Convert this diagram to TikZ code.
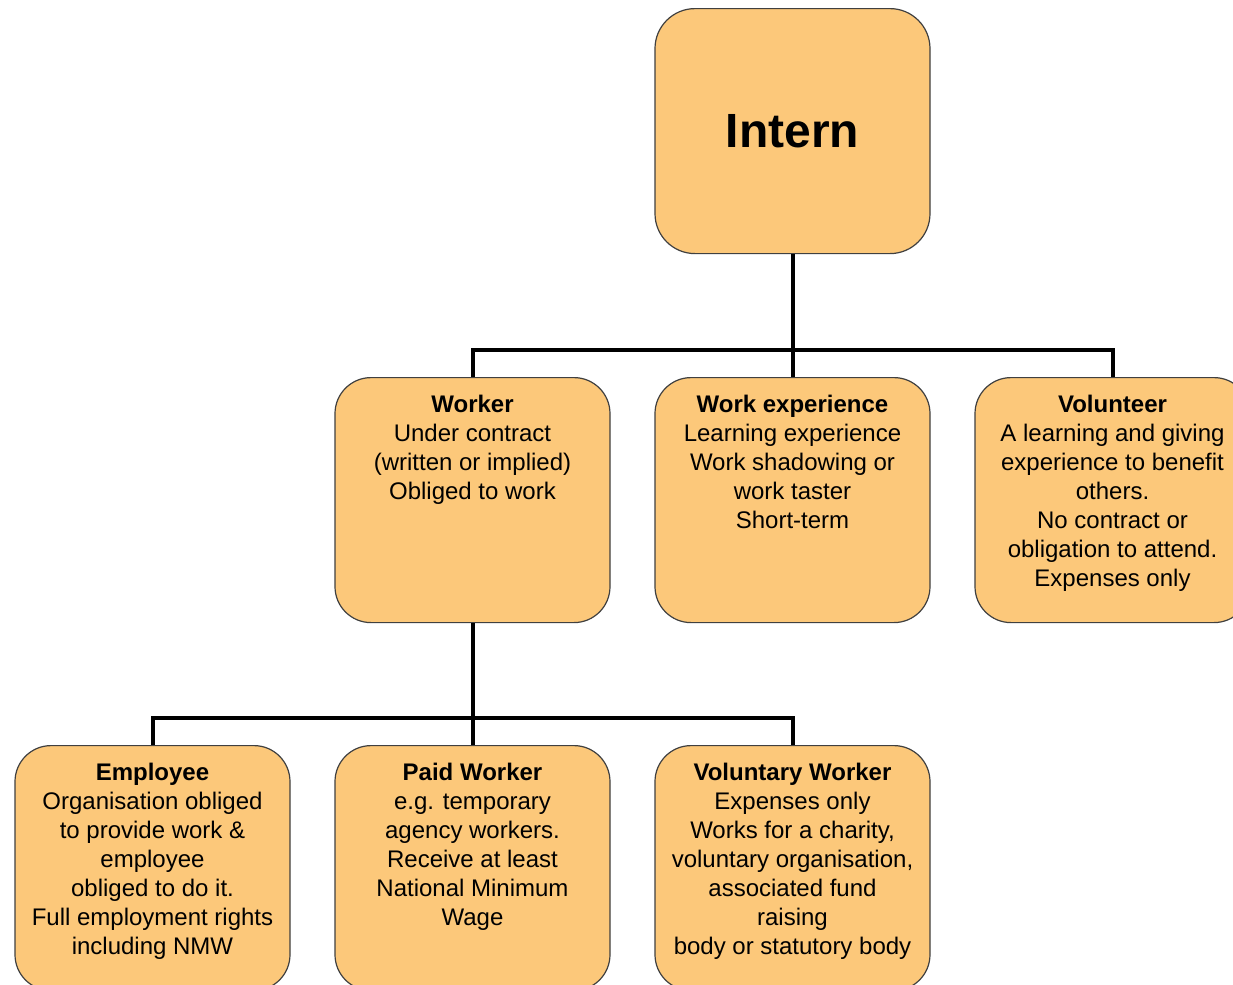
\documentclass[tikz,border=0pt]{standalone}
\usepackage{fontspec}
\setmainfont{Liberation Sans}
\definecolor{cardfill}{HTML}{FCC87A}
\definecolor{cardline}{HTML}{404040}
\tikzset{
  card/.style={draw=cardline, line width=0.6pt, fill=cardfill, rounded corners=18pt,
    minimum width=137.5pt, minimum height=122.5pt, inner sep=0pt, anchor=north},
  link/.style={line width=2pt, black}
}
\newcommand{\cardtext}[2]{\parbox[t][107.5pt][t]{137.5pt}{\centering
  \fontsize{12pt}{14.5pt}\selectfont\strut\textbf{#1}\\#2}}
\begin{document}
\begin{tikzpicture}[x=0.5pt, y=-0.5pt]
\clip (0,0) rectangle (1233,985);
\fill[white] (0,0) rectangle (1233,985);

% top
\node[card, rounded corners=20pt] (Intern) at (792.5,8) {\parbox[c][122.5pt][c]{137.5pt}{\centering\fontsize{24pt}{28pt}\selectfont\textbf{Intern}}};

% second row
\node[card] (Worker) at (472.5,377) {\cardtext{Worker}{Under contract\\(written or implied)\\Obliged to work}};
\node[card] (Work experience) at (792.5,377) {\cardtext{Work experience}{Learning experience\\Work shadowing or\\work taster\\Short-term}};
\node[card] (Volunteer) at (1112.5,377) {\cardtext{Volunteer}{A learning and giving\\experience to benefit\\others.\\No contract or\\obligation to attend.\\Expenses only}};

% third row
\node[card] (Employee) at (152.5,745) {\cardtext{Employee}{Organisation obliged\\to provide work \&\\employee\\obliged to do it.\\Full employment rights\\including NMW}};
\node[card] (Paid Worker) at (472.5,745) {\cardtext{Paid Worker}{e.g. temporary\\agency workers.\\Receive at least\\National Minimum\\Wage}};
\node[card] (Voluntary Worker) at (792.5,745) {\cardtext{Voluntary Worker}{Expenses only\\Works for a charity,\\voluntary organisation,\\associated fund\\raising\\body or statutory body}};

\coordinate (Split 1) at (792.5,350);
\coordinate (Split 2) at (472.5,718);

\draw[link] (Intern.south) -- (Split 1);
\draw[link] (Split 1) -| (Worker.north);
\draw[link] (Split 1) -- (Work experience.north);
\draw[link] (Split 1) -| (Volunteer.north);

\draw[link] (Worker.south) -- (Split 2);
\draw[link] (Split 2) -| (Employee.north);
\draw[link] (Split 2) -- (Paid Worker.north);
\draw[link] (Split 2) -| (Voluntary Worker.north);

\end{tikzpicture}
\end{document}
